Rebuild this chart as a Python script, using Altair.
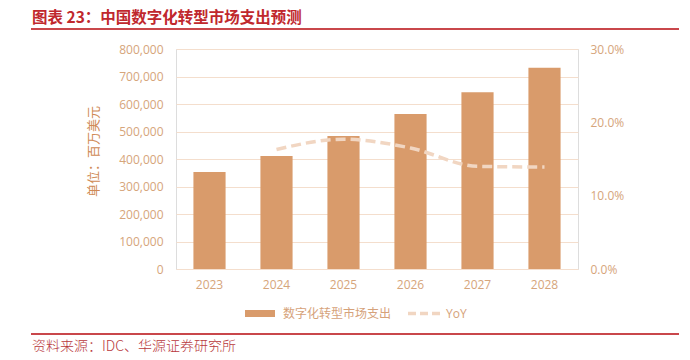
import altair as alt
import pandas as pd

years = ["2023", "2024", "2025", "2026", "2027", "2028"]
spend = [353000, 411000, 484000, 564000, 643000, 732000]
yoy_years = ["2024", "2025", "2026", "2027", "2028"]
yoy = [0.163, 0.177, 0.165, 0.140, 0.139]
left_ticks = [0, 100000, 200000, 300000, 400000, 500000, 600000, 700000, 800000]
right_ticks = [0.0, 0.1, 0.2, 0.3]

title_text = "图表 23：中国数字化转型市场支出预测"
source_text = "资料来源：IDC、华源证券研究所"
legend_bar = "数字化转型市场支出"
legend_line = "YoY"
y_title = "单位：百万美元"

W, H = 402, 220
PL, PT = 168, 41

bar_df = pd.DataFrame({"year": years, "spend": spend})
line_df = pd.DataFrame({"year": yoy_years, "yoy": yoy})
one = pd.DataFrame({"a": [0]})

lab_color = "#d6a57b"
xscale = alt.Scale(domain=years, paddingInner=0.52, paddingOuter=0.26)

bars = alt.Chart(bar_df).mark_bar(color="#d99b6b").encode(
    x=alt.X("year:N", scale=xscale, sort=years,
            axis=alt.Axis(title=None, labelAngle=0, domain=False, ticks=False,
                          labelPadding=10, labelFontSize=12, labelColor=lab_color,
                          labelFont="Open Sans")),
    y=alt.Y("spend:Q", scale=alt.Scale(domain=[0, 800000], nice=False),
            axis=alt.Axis(values=left_ticks, format=",.0f", title=y_title,
                          titleX=-83, titleY=102, titleAngle=-90,
                          titleAlign="center", titleBaseline="middle",
                          titleFontSize=13, titleFontWeight="normal",
                          titleColor="#cf8a55", titleFont="Noto Sans CJK SC",
                          domain=False, ticks=False, labelPadding=13,
                          labelFontSize=12, labelColor=lab_color,
                          labelFont="Open Sans",
                          grid=True, gridColor="#f4decd", gridWidth=1.2)),
)

line = alt.Chart(line_df).mark_line(
    color="#f1d6c2", strokeWidth=3.5, strokeDash=[10, 5], interpolate="monotone"
).encode(
    x=alt.X("year:N", scale=xscale, sort=years),
    y=alt.Y("yoy:Q", scale=alt.Scale(domain=[0, 0.3], nice=False),
            axis=alt.Axis(values=right_ticks, format=".1%", title=None,
                          orient="right", domain=False, ticks=False, grid=False,
                          labelPadding=12, labelFontSize=12, labelColor=lab_color,
                          labelFont="Open Sans")),
)

red = "#c0282d"
title = alt.Chart(one).mark_text(
    text=title_text, align="left", baseline="middle", fontSize=15.5,
    fontWeight="bold", color=red, font="Noto Sans CJK SC"
).encode(x=alt.value(-144), y=alt.value(-31))

top_rule = alt.Chart(one).mark_rule(color="#c9474b", strokeWidth=2).encode(
    x=alt.value(-145), x2=alt.value(503), y=alt.value(-20))

bot_rule = alt.Chart(one).mark_rule(color="#c9474b", strokeWidth=2).encode(
    x=alt.value(-145), x2=alt.value(503), y=alt.value(285))

source = alt.Chart(one).mark_text(
    text=source_text, align="left", baseline="middle", fontSize=14,
    color="#b8383c", font="Noto Sans CJK SC", fontWeight=300
).encode(x=alt.value(-144), y=alt.value(298))

leg_bar = alt.Chart(one).mark_rule(color="#d99b6b", strokeWidth=7).encode(
    x=alt.value(69), x2=alt.value(99), y=alt.value(264.5))
leg_bar_t = alt.Chart(one).mark_text(
    text=legend_bar, align="left", baseline="middle", fontSize=12,
    color="#d6a27a", font="Noto Sans CJK SC"
).encode(x=alt.value(107), y=alt.value(264.5))
leg_line = alt.Chart(one).mark_rule(color="#f1d6c2", strokeWidth=3.5,
                                    strokeDash=[8, 4]).encode(
    x=alt.value(232), x2=alt.value(267), y=alt.value(264.5))
leg_line_t = alt.Chart(one).mark_text(
    text=legend_line, align="left", baseline="middle", fontSize=12,
    color="#d6a27a", font="Open Sans"
).encode(x=alt.value(270), y=alt.value(264.5))

chart = alt.layer(
    bars, line, title, top_rule, bot_rule, source,
    leg_bar, leg_bar_t, leg_line, leg_line_t
).resolve_scale(y="independent").properties(
    width=W, height=H,
    autosize=alt.AutoSizeParams(type="none"),
    padding={"left": PL, "top": PT, "right": 690 - 16 - PL - W,
             "bottom": 360 - 16 - PT - H},
).configure_view(stroke=None).configure(background="white")

chart.save("out.html", embed_options={"renderer": "svg", "actions": False})
